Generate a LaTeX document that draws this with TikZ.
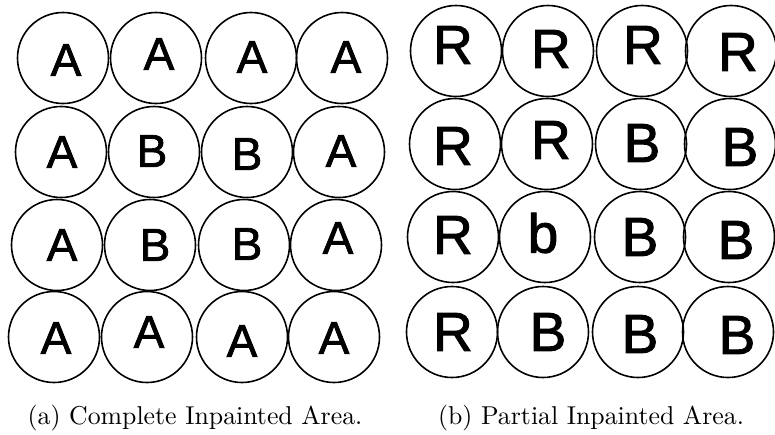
\documentclass[tikz,border=0pt]{standalone}
\usepackage{fontspec}
\newfontfamily\letterfont{Liberation Sans}[FakeBold=1.6]
\begin{document}
\begin{tikzpicture}[x=1pt,y=-1pt,
  cell/.style={circle,draw=black,line width=1.6pt,minimum size=91pt,inner sep=0pt},
  ltrL/.style={inner sep=0pt,font=\letterfont\fontsize{46}{46}\selectfont},
  ltrR/.style={inner sep=0pt,font=\letterfont\fontsize{55}{55}\selectfont},
  captext/.style={anchor=base,inner sep=0pt,font=\fontsize{10}{12}\selectfont,scale=2.58,transform shape}]
\useasboundingbox (0,0) rectangle (775,434);
% left grid circles
\foreach \x/\y/\n in {63/58/11,156/58/12,251/58/13,342/58/14,
                      61/152/21,154/152/22,247/152/23,339/152/24,
                      57/245/31,150/245/32,244/245/33,336/245/34,
                      54/337/41,147/337/42,242/337/43,334/337/44}
  \node[cell] (L\n) at (\x,\y) {};
% left letters
\foreach \x/\y/\n/\t in {66/60/11/A,159/54/12/A,252/57/13/A,346/57/14/A,
                         62/152/21/A,152/151/22/B,247/154/23/B,341/151/24/A,
                         62/245/31/A,155/245/32/B,247/244/33/B,338/238/34/A,
                         56/338/41/A,149/332/42/A,242/341/43/A,334/338/44/A}
  \node[ltrL] (LT\n) at (\x,\y) {\t};
% right grid circles
\foreach \x/\y/\n in {456/51/11,548/51/12,642/51/13,731/51/14,
                      455/144/21,547/144/22,641/144/23,730/144/24,
                      453/237/31,545/237/32,640/237/33,729/237/34,
                      452/332/41,543/332/42,638/332/43,728/332/44}
  \node[cell] (R\n) at (\x,\y) {};
% right letters
\foreach \x/\y/\n/\t in {453/45/11/R,551/49/12/R,643/45/13/R,738/52/14/R,
                         453/146/21/R,551/140/22/R,642/143/23/B,740/147/24/B,
                         453/235/31/R,543/233/32/b,640/237/33/B,736/240/34/B,
                         453/332/41/R,548/332/42/B,640/334/43/B,737/335/44/B}
  \node[ltrR] (RT\n) at (\x,\y) {\t};
% captions
\node[captext] (capa) at (195,424) {(a) Complete Inpainted Area.};
\node[captext] (capb) at (591,424) {(b) Partial Inpainted Area.};
\end{tikzpicture}
\end{document}
